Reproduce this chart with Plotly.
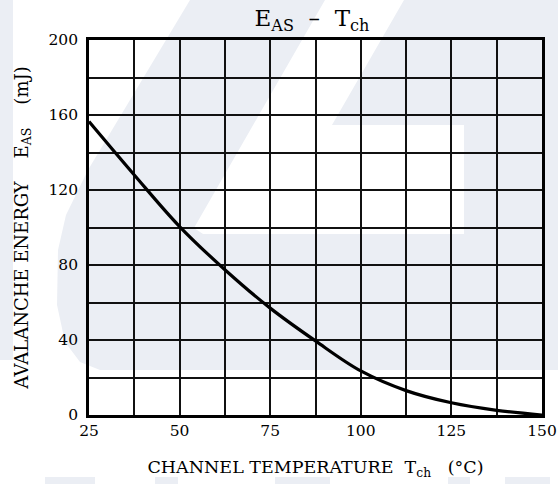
import plotly.graph_objects as go

# ---- data ----
temps = [25, 37.5, 50, 62.5, 75, 87.5, 100, 112.5, 125, 137.5, 150]
eas = [156.5, 128, 100.5, 77.5, 57, 39.5, 23.5, 13, 6.5, 2.5, 0]
x_ticks = [25, 50, 75, 100, 125, 150]
y_ticks = [0, 40, 80, 120, 160, 200]

W, H = 558, 484
L, R, T, B = 89, 16, 40, 69
PW, PH = W - L - R, H - T - B
FONT = "DejaVu Serif"
WM = "#ebeef4"
NB = "\u00a0"


def path(pts):
    s = []
    for i, (px, py) in enumerate(pts):
        xp = (px - L) / PW
        yp = (H - B - py) / PH
        s.append(("M" if i == 0 else "L") + f"{xp:.4f},{yp:.4f}")
    return " ".join(s) + " Z"


def wshape(pts, color):
    return dict(type="path", xref="paper", yref="paper", path=path(pts),
                fillcolor=color, line=dict(width=0), layer="below")


shapes = [
    wshape([(0, 0), (13, 0), (13, 360), (0, 360)], WM),
    wshape([(190, 0), (558, 0), (558, 370), (100, 370), (80, 362), (65, 342),
            (57, 305), (58, 250), (66, 215), (88, 170)], WM),
    wshape([(325, 0), (404, 0), (332, 125), (464, 125), (464, 234), (203, 234),
            (194, 228)], "white"),
]
for x0, x1 in [(45, 95), (155, 178), (275, 330), (448, 470), (505, 550)]:
    shapes.append(wshape([(x0, 477), (x1, 477), (x1, 484), (x0, 484)], WM))

fig = go.Figure()
fig.add_trace(go.Scatter(x=temps, y=eas, mode="lines",
                         line=dict(color="black", width=3.2, shape="spline", smoothing=1.0),
                         hoverinfo="skip", showlegend=False))

axis_common = dict(
    showline=True, linecolor="black", linewidth=2.6, mirror=True,
    showgrid=True, gridcolor="#111111", gridwidth=1.5,
    ticks="", zeroline=False,
    tickfont=dict(family=FONT, size=15.5, color="black"),
)
minor_common = dict(tickmode="linear", showgrid=True, gridcolor="#111111",
                    gridwidth=1.5, ticks="")

fig.update_xaxes(range=[25, 150], tickmode="array", tickvals=x_ticks,
                 ticktext=[str(v) for v in x_ticks], ticklabelstandoff=0,
                 minor=dict(tick0=25, dtick=12.5, **minor_common),
                 title=dict(text="CHANNEL" + NB + "TEMPERATURE" + NB * 2 + "T<sub>ch</sub>" + NB * 3 + "(°C)",
                            font=dict(family=FONT, size=17.5, color="black"), standoff=22),
                 **axis_common)
fig.update_yaxes(range=[0, 200], tickmode="array", tickvals=y_ticks,
                 ticktext=[str(v) for v in y_ticks], ticklabelstandoff=5,
                 minor=dict(tick0=0, dtick=20, **minor_common),
                 title=dict(text=NB * 3 + "AVALANCHE" + NB + "ENERGY" + NB * 4 + "E<sub>AS</sub>" + NB * 4 + "(mJ)",
                            font=dict(family=FONT, size=18, color="black"), standoff=16),
                 **axis_common)

fig.update_layout(
    width=W, height=H,
    margin=dict(l=L, r=R, t=T, b=B, autoexpand=False),
    paper_bgcolor="white", plot_bgcolor="rgba(0,0,0,0)",
    title=dict(text="E<sub>AS</sub>" + NB * 2 + "–" + NB * 2 + "T<sub>ch</sub>",
               x=(312 - L) / PW, xref="paper", xanchor="center",
               y=1 - 10 / H, yref="container", yanchor="top",
               font=dict(family=FONT, size=23, color="black")),
    shapes=shapes,
    showlegend=False,
)

fig.write_html("out.html", config={"displayModeBar": False},
               post_script="document.body.style.margin='0px';document.body.style.overflow='hidden';")
